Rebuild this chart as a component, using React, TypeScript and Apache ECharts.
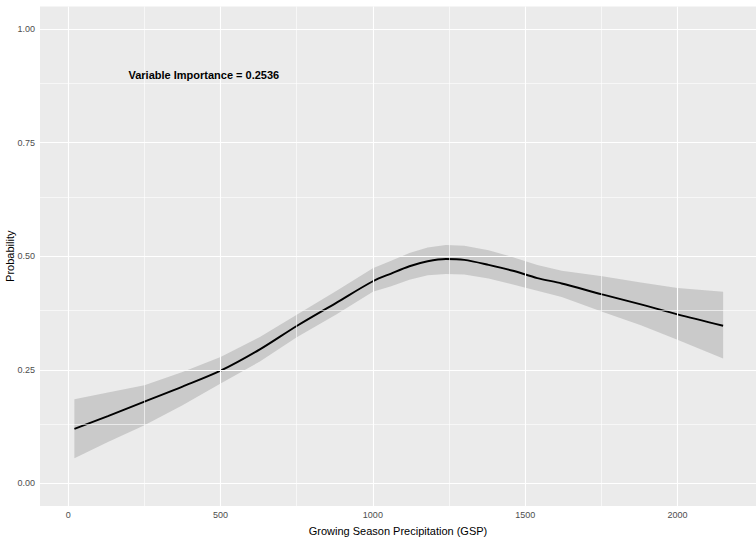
import React, { useEffect, useRef } from "react";
import * as echarts from "echarts";

// Growing season precipitation (mm) at which the fitted curve is sampled
const gspValues = [20, 130, 250, 375, 500, 629, 750, 881, 1000, 1060, 1120, 1180, 1240, 1300, 1380, 1460, 1540, 1620, 1753, 1880, 2000, 2150];
// Fitted probability
const fitProb = [0.12, 0.148, 0.18, 0.213, 0.248, 0.295, 0.3465, 0.398, 0.445, 0.462, 0.478, 0.489, 0.494, 0.492, 0.481, 0.468, 0.452, 0.44, 0.416, 0.394, 0.372, 0.347];
// Confidence band
const bandLower = [0.055, 0.091, 0.128, 0.172, 0.22, 0.268, 0.3215, 0.372, 0.422, 0.434, 0.448, 0.458, 0.461, 0.46, 0.451, 0.438, 0.424, 0.41, 0.378, 0.348, 0.316, 0.275];
const bandUpper = [0.185, 0.2, 0.216, 0.245, 0.278, 0.322, 0.371, 0.424, 0.4735, 0.49, 0.507, 0.519, 0.525, 0.523, 0.513, 0.498, 0.481, 0.468, 0.456, 0.442, 0.43, 0.422];

const xTicks = [0, 500, 1000, 1500, 2000];
const xMinor = [250, 750, 1250, 1750];
const yTicks = [0, 0.25, 0.5, 0.75, 1];
const yMinor = [0.125, 0.375, 0.625, 0.875];

const importanceText = "Variable Importance = 0.2536";

export default function App() {
  const ref = useRef<HTMLDivElement>(null);

  useEffect(() => {
    if (!ref.current) return;
    const chart = echarts.init(ref.current, null, { renderer: "svg" });

    const major = { color: "#ffffff", width: 1.1, type: "solid" };
    const minor = { color: "#ffffff", width: 0.6, type: "solid" };
    const gridLines = [
      ...yMinor.map((v) => ({ yAxis: v, lineStyle: minor })),
      ...xMinor.map((v) => ({ xAxis: v, lineStyle: minor })),
      ...yTicks.map((v) => ({ yAxis: v, lineStyle: major })),
      ...xTicks.map((v) => ({ xAxis: v, lineStyle: major })),
    ];

    chart.setOption({
      animation: false,
      textStyle: { fontFamily: "Liberation Sans, Arial, sans-serif" },
      grid: {
        left: 40,
        right: 0,
        top: 6.5,
        bottom: 38,
        outerBoundsMode: "none",
        containLabel: false,
        show: true,
        backgroundColor: "#EBEBEB",
        borderWidth: 0,
      },
      xAxis: {
        type: "value",
        min: -93,
        max: 2258,
        name: "Growing Season Precipitation (GSP)",
        nameLocation: "middle",
        nameGap: 19,
        nameMoveOverlap: false,
        nameTextStyle: { color: "#000", fontSize: 11 },
        axisLine: { show: false },
        axisTick: { show: true, length: 3.5, lineStyle: { color: "#333" }, customValues: xTicks },
        axisLabel: {
          color: "#4D4D4D",
          fontSize: 9,
          margin: 4,
          customValues: xTicks,
          formatter: (v: number) => String(v),
        },
        splitLine: { show: false },
      },
      yAxis: {
        type: "value",
        min: -0.05,
        max: 1.05,
        name: "Probability",
        nameLocation: "middle",
        nameRotate: 90,
        nameGap: 25,
        nameMoveOverlap: false,
        nameTextStyle: { color: "#000", fontSize: 11 },
        axisLine: { show: false },
        axisTick: { show: true, length: 3.5, lineStyle: { color: "#333" }, customValues: yTicks },
        axisLabel: {
          color: "#4D4D4D",
          fontSize: 9,
          margin: 5,
          customValues: yTicks,
          formatter: (v: number) => v.toFixed(2),
        },
        splitLine: { show: false },
      },
      series: [
        {
          name: "grid",
          type: "line",
          z: 1,
          silent: true,
          data: gspValues.map((x, i) => [x, fitProb[i]]),
          showSymbol: false,
          lineStyle: { opacity: 0 },
          markLine: {
            silent: true,
            symbol: ["none", "none"],
            label: { show: false },
            animation: false,
            data: gridLines,
          },
        },
        {
          name: "band",
          type: "custom",
          z: 2,
          silent: true,
          data: gspValues.map((x, i) => [x, bandLower[i], bandUpper[i]]),
          encode: { x: 0, y: [1, 2] },
          renderItem: (params: any, api: any) => {
            if (params.dataIndex !== 0) return null;
            const upperPts = gspValues.map((x, i) => api.coord([x, bandUpper[i]]));
            const lowerPts = gspValues.map((x, i) => api.coord([x, bandLower[i]])).reverse();
            return {
              type: "polygon",
              shape: { points: upperPts.concat(lowerPts) },
              style: { fill: "rgba(153,153,153,0.4)" },
            };
          },
        },
        {
          name: "fit",
          type: "line",
          z: 3,
          smooth: 0.3,
          showSymbol: false,
          lineStyle: { color: "#000", width: 1.9 },
          data: gspValues.map((x, i) => [x, fitProb[i]]),
          markPoint: {
            silent: true,
            symbol: "circle",
            symbolSize: 0,
            label: {
              show: true,
              position: "inside",
              color: "#000",
              fontWeight: "bold",
              fontSize: 11,
              formatter: importanceText,
            },
            data: [{ coord: [445, 0.9] }],
          },
        },
      ],
    });

    return () => chart.dispose();
  }, []);

  return (
    <div
      ref={ref}
      style={{ position: "fixed", left: 0, top: 0, width: 756, height: 544, background: "#fff" }}
    />
  );
}
